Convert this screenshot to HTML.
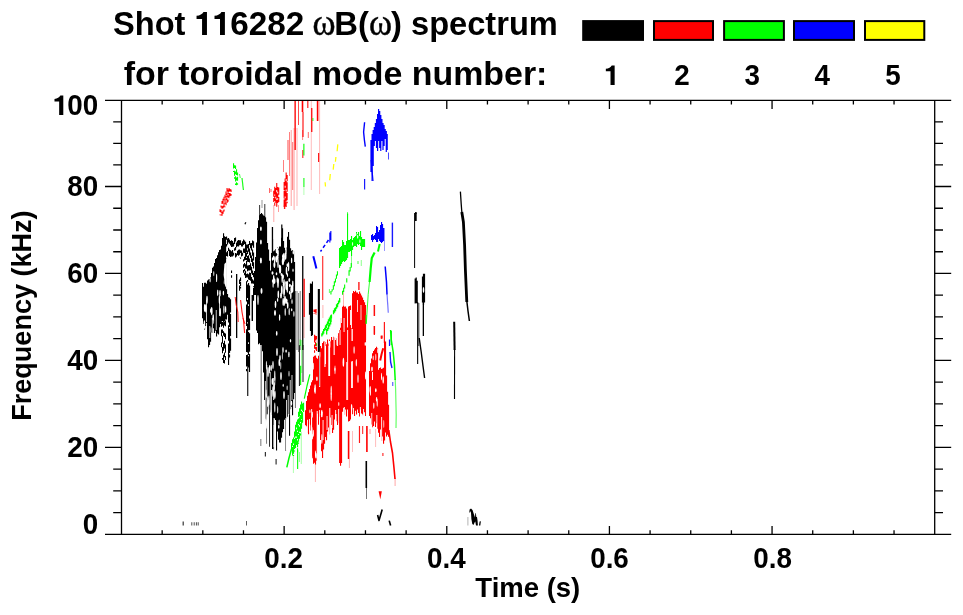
<!DOCTYPE html>
<html><head><meta charset="utf-8"><title>Shot 116282 spectrum</title>
<style>
html,body{margin:0;padding:0;background:#fff;}
body{width:963px;height:615px;overflow:hidden;}
svg{display:block;will-change:transform;font-family:"Liberation Sans",sans-serif;font-weight:bold;fill:#000;}
</style></head><body>
<svg width="963" height="615" viewBox="0 0 963 615">
<rect width="963" height="615" fill="#fff"/>
<path fill="#000" d="M202.0 283.0h1.1v35.2h-1.1zM203.0 286.7h1.1v37.2h-1.1zM204.0 282.8h1.1v46.6h-1.1zM205.0 282.8h1.1v43.2h-1.1zM206.0 283.8h1.1v39.3h-1.1zM207.0 280.4h1.1v58.8h-1.1zM208.0 279.4h1.1v67.8h-1.1zM209.0 279.1h1.1v66.0h-1.1zM210.0 277.4h1.1v64.4h-1.1zM211.0 272.9h1.1v59.5h-1.1zM212.0 267.7h1.1v65.4h-1.1zM213.0 266.4h1.1v61.9h-1.1zM214.0 262.9h1.1v70.1h-1.1zM215.0 259.1h1.1v71.7h-1.1zM216.0 258.0h1.1v78.4h-1.1zM217.0 255.3h1.1v78.2h-1.1zM218.0 252.2h1.1v82.4h-1.1zM219.0 250.1h1.1v77.1h-1.1zM220.0 249.5h1.1v74.5h-1.1zM221.0 245.8h1.1v75.1h-1.1zM222.0 237.9h1.1v83.0h-1.1zM223.0 233.3h1.1v89.0h-1.1zM224.0 236.4h1.1v85.2h-1.1zM225.0 240.8h1.1v78.7h-1.1zM226.0 289.3h1.1v30.1h-1.1zM227.0 294.0h1.1v20.8h-1.1z"/>
<path fill="#fff" d="M224.4 264 L226.4 262 L226.4 288 L225.2 286 L223.6 275z"/>
<path fill="#000" d="M221.0 321.3h1.0v5.4h-1.0zM221.0 329.5h1.0v6.8h-1.0zM221.0 342.6h1.0v4.6h-1.0zM222.0 322.0h1.0v3.7h-1.0zM222.0 329.4h1.0v3.6h-1.0zM222.0 335.8h1.0v7.8h-1.0zM222.0 346.9h1.0v6.4h-1.0zM222.0 357.9h1.0v1.9h-1.0zM223.0 322.2h1.0v5.5h-1.0zM223.0 331.2h1.0v4.6h-1.0zM223.0 343.0h1.0v7.8h-1.0zM223.0 354.8h1.0v8.3h-1.0zM224.0 321.9h1.0v3.6h-1.0zM224.0 332.8h1.0v4.3h-1.0zM224.0 340.8h1.0v7.6h-1.0zM224.0 352.5h1.0v4.8h-1.0zM224.0 360.1h1.0v3.5h-1.0zM225.0 320.5h1.0v5.7h-1.0zM225.0 333.4h1.0v5.9h-1.0zM225.0 344.6h1.0v8.2h-1.0zM225.0 356.1h1.0v3.9h-1.0z"/>
<path fill="#000" d="M228.0 297.3h1.1v25.3h-1.1zM228.0 325.3h1.1v15.5h-1.1zM228.0 343.4h1.1v21.6h-1.1zM229.0 297.7h1.1v29.3h-1.1zM229.0 328.4h1.1v24.7h-1.1zM229.0 354.4h1.1v3.0h-1.1zM230.0 299.3h1.1v13.2h-1.1zM230.0 313.9h1.1v22.1h-1.1zM230.0 338.5h1.1v12.2h-1.1z"/>
<g fill="#fff"><ellipse cx="224.2" cy="282.2" rx="0.4" ry="2.3"/><ellipse cx="213.8" cy="273.6" rx="0.5" ry="2.6"/><ellipse cx="216.6" cy="277.9" rx="0.6" ry="4.2"/><ellipse cx="225.6" cy="309.4" rx="0.7" ry="3.3"/><ellipse cx="204.4" cy="324.6" rx="0.8" ry="4.4"/><ellipse cx="204.5" cy="308.2" rx="0.6" ry="3.7"/><ellipse cx="211.0" cy="330.0" rx="0.4" ry="3.1"/><ellipse cx="220.2" cy="312.2" rx="0.8" ry="4.2"/><ellipse cx="211.7" cy="311.1" rx="0.9" ry="4.1"/><ellipse cx="213.2" cy="317.4" rx="0.8" ry="3.2"/><ellipse cx="217.7" cy="292.9" rx="0.7" ry="3.3"/><ellipse cx="205.8" cy="308.4" rx="0.9" ry="4.1"/><ellipse cx="220.0" cy="293.3" rx="0.8" ry="3.2"/><ellipse cx="213.7" cy="320.3" rx="0.4" ry="3.8"/><ellipse cx="204.7" cy="306.1" rx="0.6" ry="2.2"/><ellipse cx="219.4" cy="299.8" rx="0.7" ry="4.3"/><ellipse cx="210.6" cy="310.7" rx="0.5" ry="2.0"/><ellipse cx="223.9" cy="309.6" rx="0.6" ry="4.2"/><ellipse cx="211.2" cy="310.0" rx="0.5" ry="2.8"/><ellipse cx="223.4" cy="293.1" rx="0.7" ry="2.4"/><ellipse cx="207.0" cy="299.8" rx="0.8" ry="4.0"/><ellipse cx="210.1" cy="280.1" rx="0.6" ry="2.3"/></g>
<path fill="#fff" d="M206.1 300.0h0.8v22.0h-0.8z"/>
<path fill="#fff" d="M211.9 318.0h0.8v16.0h-0.8z"/>
<path fill="#fff" d="M215.8 310.0h0.8v20.0h-0.8z"/>
<path fill="#fff" d="M219.1 300.0h0.8v16.0h-0.8z"/>
<path fill="#fff" d="M209.4 326.0h0.8v12.0h-0.8z"/>
<path fill="#000" d="M224.0 236.5h1.1v4.7h-1.1zM224.0 244.8h1.1v6.3h-1.1zM225.0 237.1h1.1v6.4h-1.1zM225.0 245.9h1.1v5.7h-1.1zM226.0 236.6h1.1v3.1h-1.1zM226.0 243.9h1.1v2.6h-1.1zM226.0 252.3h1.1v3.6h-1.1zM226.0 258.7h1.1v0.3h-1.1zM227.0 238.4h1.1v6.1h-1.1zM227.0 251.0h1.1v5.6h-1.1zM228.0 237.9h1.1v4.6h-1.1zM228.0 247.8h1.1v3.3h-1.1zM228.0 254.5h1.1v0.0h-1.1zM229.0 239.4h1.1v4.3h-1.1zM229.0 249.4h1.1v6.6h-1.1zM230.0 240.9h1.1v4.5h-1.1zM230.0 250.3h1.1v6.6h-1.1zM231.0 240.2h1.1v6.7h-1.1zM231.0 251.2h1.1v5.4h-1.1zM232.0 241.0h1.1v5.7h-1.1zM232.0 249.9h1.1v6.5h-1.1zM233.0 242.7h1.1v3.9h-1.1zM233.0 252.8h1.1v2.7h-1.1zM234.0 238.0h1.1v6.0h-1.1zM234.0 248.2h1.1v2.6h-1.1zM235.0 237.4h1.1v4.0h-1.1zM235.0 247.1h1.1v3.1h-1.1zM235.0 253.1h1.1v4.5h-1.1zM236.0 242.6h1.1v4.7h-1.1zM236.0 253.6h1.1v2.9h-1.1zM237.0 240.8h1.1v5.4h-1.1zM237.0 250.7h1.1v4.3h-1.1zM238.0 240.0h1.1v6.6h-1.1zM238.0 249.7h1.1v6.1h-1.1zM239.0 240.3h1.1v4.9h-1.1zM239.0 249.6h1.1v5.2h-1.1zM239.0 257.1h1.1v0.1h-1.1zM240.0 240.3h1.1v4.7h-1.1zM240.0 250.2h1.1v2.8h-1.1zM240.0 257.6h1.1v1.2h-1.1zM241.0 243.3h1.1v3.1h-1.1zM241.0 250.5h1.1v6.0h-1.1zM242.0 241.2h1.1v5.3h-1.1zM242.0 252.7h1.1v3.1h-1.1zM243.0 239.4h1.1v5.6h-1.1zM243.0 248.6h1.1v4.1h-1.1zM243.0 257.6h1.1v0.0h-1.1zM244.0 240.5h1.1v3.4h-1.1zM244.0 248.4h1.1v4.5h-1.1zM244.0 256.7h1.1v3.7h-1.1zM245.0 241.7h1.1v5.4h-1.1zM245.0 251.6h1.1v6.3h-1.1zM246.0 245.9h1.1v6.1h-1.1zM246.0 258.1h1.1v2.2h-1.1z"/>
<path fill="#000" d="M245.0 245.9h1.1v7.4h-1.1zM245.0 255.7h1.1v4.2h-1.1zM245.0 264.3h1.1v4.3h-1.1zM245.0 270.8h1.1v7.2h-1.1zM246.0 244.4h1.1v6.4h-1.1zM246.0 252.7h1.1v4.0h-1.1zM246.0 261.1h1.1v7.6h-1.1zM246.0 274.0h1.1v3.6h-1.1zM247.0 244.4h1.1v3.9h-1.1zM247.0 250.4h1.1v3.5h-1.1zM247.0 255.9h1.1v5.8h-1.1zM247.0 265.4h1.1v5.8h-1.1zM247.0 273.6h1.1v3.9h-1.1zM247.0 280.1h1.1v1.7h-1.1zM248.0 244.0h1.1v7.8h-1.1zM248.0 255.3h1.1v6.8h-1.1zM248.0 265.2h1.1v5.3h-1.1zM248.0 274.2h1.1v5.2h-1.1zM249.0 241.1h1.1v3.9h-1.1zM249.0 248.5h1.1v6.7h-1.1zM249.0 258.5h1.1v4.0h-1.1zM249.0 264.9h1.1v5.6h-1.1zM249.0 272.4h1.1v7.5h-1.1zM250.0 243.3h1.1v5.0h-1.1zM250.0 252.4h1.1v5.5h-1.1zM250.0 263.3h1.1v7.0h-1.1zM250.0 273.1h1.1v7.6h-1.1zM251.0 243.1h1.1v7.5h-1.1zM251.0 255.6h1.1v6.5h-1.1zM251.0 266.8h1.1v6.8h-1.1zM251.0 276.9h1.1v6.6h-1.1zM252.0 240.6h1.1v4.8h-1.1zM252.0 249.6h1.1v6.1h-1.1zM252.0 258.4h1.1v7.7h-1.1zM252.0 270.4h1.1v4.7h-1.1zM252.0 279.3h1.1v4.1h-1.1zM253.0 241.3h1.1v6.5h-1.1zM253.0 252.5h1.1v7.9h-1.1zM253.0 262.3h1.1v6.1h-1.1zM253.0 272.9h1.1v4.3h-1.1zM253.0 280.5h1.1v3.3h-1.1zM253.0 286.3h1.1v0.7h-1.1z"/>
<path fill="#000" d="M246.0 281.2h1.1v20.2h-1.1zM246.0 304.6h1.1v21.4h-1.1zM246.0 329.3h1.1v22.8h-1.1zM246.0 354.9h1.1v11.5h-1.1zM246.0 368.9h1.1v2.3h-1.1zM247.0 284.5h1.1v13.4h-1.1zM247.0 300.1h1.1v22.2h-1.1zM247.0 323.6h1.1v28.9h-1.1zM247.0 354.5h1.1v11.4h-1.1zM248.0 283.0h1.1v21.2h-1.1zM248.0 305.9h1.1v24.3h-1.1zM248.0 332.0h1.1v10.3h-1.1zM248.0 344.0h1.1v10.9h-1.1zM248.0 356.3h1.1v11.3h-1.1zM249.0 285.6h1.1v29.8h-1.1zM249.0 318.6h1.1v11.5h-1.1zM249.0 333.2h1.1v18.6h-1.1zM249.0 353.9h1.1v18.0h-1.1z"/>
<path fill="#000" d="M247.2 365.0h1.1v31.0h-1.1z"/>
<path fill="#000" d="M251.6 295.0h1.4v26.0h-1.4z"/>
<path fill="#000" d="M236.0 274.0h1.3v64.0h-1.3z"/>
<path fill="#000" d="M239.0 279.5h1.1v4.4h-1.1zM239.0 285.5h1.1v5.2h-1.1zM240.0 277.5h1.1v3.6h-1.1zM240.0 281.7h1.1v4.6h-1.1zM240.0 287.0h1.1v1.5h-1.1z"/>
<path fill="#000" d="M231.0 270.6h1.1v2.4h-1.1zM231.0 275.2h1.1v2.5h-1.1z"/>
<path fill="#000" d="M243.0 259.2h1.1v2.2h-1.1zM243.0 264.2h1.1v3.6h-1.1zM243.0 270.0h1.1v2.7h-1.1zM244.0 263.1h1.1v3.3h-1.1zM244.0 268.9h1.1v2.4h-1.1zM244.0 272.7h1.1v2.5h-1.1z"/>
<path fill="#000" d="M253.0 287.8h1.1v13.0h-1.1zM254.0 271.1h1.1v24.0h-1.1zM255.0 257.1h1.1v38.0h-1.1zM256.0 242.5h1.1v88.0h-1.1zM257.0 227.9h1.1v105.0h-1.1zM258.0 220.2h1.1v124.0h-1.1zM259.0 215.2h1.1v128.0h-1.1zM260.0 214.1h1.1v131.0h-1.1zM261.0 213.1h1.1v132.0h-1.1zM262.0 214.2h1.1v137.0h-1.1zM263.0 215.4h1.1v157.0h-1.1zM264.0 216.1h1.1v184.0h-1.1zM265.0 217.3h1.1v208.0h-1.1zM266.0 221.7h1.1v222.0h-1.1zM267.0 243.0h1.1v172.0h-1.1zM268.0 249.4h1.1v160.0h-1.1zM269.0 260.7h1.1v186.0h-1.1zM270.0 270.5h1.1v142.0h-1.1zM271.0 252.7h1.1v162.0h-1.1zM272.0 239.1h1.1v210.0h-1.1zM273.0 251.2h1.1v198.0h-1.1zM274.0 250.6h1.1v168.0h-1.1zM275.0 249.2h1.1v171.0h-1.1zM276.0 250.5h1.1v200.0h-1.1zM277.0 247.4h1.1v184.0h-1.1zM278.0 248.8h1.1v191.0h-1.1zM279.0 246.5h1.1v196.0h-1.1zM280.0 246.6h1.1v196.0h-1.1zM281.0 237.7h1.1v200.0h-1.1zM282.0 228.3h1.1v204.0h-1.1zM283.0 241.0h1.1v188.0h-1.1zM284.0 247.7h1.1v172.0h-1.1zM285.0 250.1h1.1v168.0h-1.1zM286.0 247.5h1.1v171.0h-1.1zM287.0 236.8h1.1v180.0h-1.1zM288.0 231.9h1.1v182.0h-1.1zM289.0 239.7h1.1v196.0h-1.1zM290.0 248.2h1.1v161.0h-1.1zM291.0 250.8h1.1v156.0h-1.1zM292.0 250.2h1.1v165.0h-1.1zM293.0 251.2h1.1v148.0h-1.1zM294.0 262.1h1.1v131.0h-1.1z"/>
<path fill="#000" opacity="0.8" d="M259.1 205.0h1.0v11.0h-1.0z"/>
<path fill="#000" opacity="0.8" d="M264.3 204.0h1.0v13.0h-1.0z"/>
<path fill="#000" opacity="0.5" d="M261.6 200.0h0.8v8.0h-0.8z"/>
<path fill="#000" d="M271.8 227.0h1.3v25.0h-1.3z"/>
<path fill="#000" d="M281.2 224.5h1.2v15.5h-1.2z"/>
<path fill="#000" opacity="0.55" d="M260.6 345.0h1.2v79.0h-1.2z"/>
<path fill="#000" opacity="0.45" d="M260.2 439.0h1.2v7.0h-1.2z"/>
<path fill="#000" opacity="0.5" d="M285.1 406.0h1.0v45.0h-1.0z"/>
<path fill="#fff" d="M274.8 420.0h1.0v32.0h-1.0z"/>
<path fill="#fff" d="M273.6 418.0h0.8v34.0h-0.8z"/>
<g fill="#fff"><ellipse cx="282.2" cy="278.8" rx="0.7" ry="4.2"/><ellipse cx="272.7" cy="259.0" rx="0.9" ry="1.8"/><ellipse cx="278.0" cy="280.4" rx="0.9" ry="2.5"/><ellipse cx="274.3" cy="265.0" rx="0.9" ry="2.8"/><ellipse cx="273.7" cy="279.8" rx="0.8" ry="4.7"/><ellipse cx="292.6" cy="288.4" rx="0.8" ry="4.3"/><ellipse cx="278.0" cy="263.3" rx="0.7" ry="4.8"/><ellipse cx="291.6" cy="260.4" rx="0.7" ry="2.8"/><ellipse cx="279.4" cy="266.6" rx="0.7" ry="2.2"/><ellipse cx="284.0" cy="283.5" rx="0.8" ry="4.4"/><ellipse cx="283.9" cy="257.4" rx="1.0" ry="4.6"/><ellipse cx="277.5" cy="250.9" rx="0.8" ry="3.4"/><ellipse cx="284.1" cy="290.6" rx="0.9" ry="4.3"/><ellipse cx="272.5" cy="273.0" rx="1.0" ry="1.8"/><ellipse cx="272.9" cy="281.0" rx="1.0" ry="1.8"/><ellipse cx="285.6" cy="256.0" rx="0.9" ry="3.8"/><ellipse cx="276.6" cy="259.3" rx="1.0" ry="3.3"/><ellipse cx="288.6" cy="266.6" rx="0.7" ry="4.9"/><ellipse cx="286.5" cy="270.7" rx="0.8" ry="4.0"/><ellipse cx="287.3" cy="288.4" rx="0.7" ry="4.4"/><ellipse cx="286.3" cy="285.8" rx="1.0" ry="4.4"/><ellipse cx="291.4" cy="290.2" rx="0.9" ry="3.3"/><ellipse cx="287.3" cy="283.7" rx="0.8" ry="3.0"/><ellipse cx="274.4" cy="281.1" rx="1.1" ry="2.8"/><ellipse cx="274.9" cy="258.6" rx="0.8" ry="2.5"/><ellipse cx="293.3" cy="252.5" rx="0.7" ry="1.9"/><ellipse cx="285.9" cy="282.6" rx="0.6" ry="1.7"/><ellipse cx="281.6" cy="274.5" rx="1.0" ry="1.6"/><ellipse cx="273.5" cy="257.8" rx="0.6" ry="2.3"/><ellipse cx="287.5" cy="275.0" rx="0.6" ry="2.1"/><ellipse cx="277.5" cy="257.2" rx="1.0" ry="2.6"/><ellipse cx="283.6" cy="284.3" rx="0.8" ry="2.4"/><ellipse cx="291.4" cy="288.4" rx="0.7" ry="3.4"/><ellipse cx="293.0" cy="270.3" rx="0.6" ry="1.7"/><ellipse cx="292.8" cy="283.7" rx="0.7" ry="3.3"/><ellipse cx="282.9" cy="261.5" rx="1.1" ry="3.8"/><ellipse cx="276.5" cy="250.5" rx="0.8" ry="2.8"/><ellipse cx="289.3" cy="280.0" rx="0.9" ry="2.1"/><ellipse cx="274.6" cy="263.5" rx="0.7" ry="4.5"/><ellipse cx="282.9" cy="276.8" rx="1.1" ry="2.4"/><ellipse cx="283.3" cy="256.3" rx="1.0" ry="1.5"/><ellipse cx="289.9" cy="285.5" rx="1.0" ry="1.8"/><ellipse cx="277.2" cy="280.1" rx="0.6" ry="3.2"/><ellipse cx="281.8" cy="290.1" rx="0.9" ry="4.5"/><ellipse cx="278.0" cy="283.2" rx="0.8" ry="4.7"/><ellipse cx="273.1" cy="284.7" rx="0.6" ry="3.4"/><ellipse cx="283.1" cy="256.6" rx="1.0" ry="2.6"/><ellipse cx="278.1" cy="253.2" rx="0.7" ry="3.1"/><ellipse cx="287.4" cy="265.1" rx="0.9" ry="1.9"/><ellipse cx="280.1" cy="269.4" rx="1.1" ry="4.4"/><ellipse cx="286.0" cy="250.5" rx="0.7" ry="4.0"/><ellipse cx="276.5" cy="273.7" rx="0.8" ry="1.5"/></g>
<g fill="#fff"><ellipse cx="293.9" cy="314.0" rx="0.6" ry="3.0"/><ellipse cx="286.2" cy="301.3" rx="0.7" ry="2.2"/><ellipse cx="286.7" cy="301.8" rx="0.8" ry="2.1"/><ellipse cx="285.2" cy="311.9" rx="0.6" ry="3.9"/><ellipse cx="289.2" cy="311.7" rx="0.6" ry="3.6"/><ellipse cx="284.0" cy="294.2" rx="0.5" ry="3.2"/><ellipse cx="290.8" cy="295.4" rx="0.7" ry="3.6"/><ellipse cx="289.5" cy="292.7" rx="0.6" ry="1.9"/><ellipse cx="284.4" cy="302.2" rx="0.5" ry="3.8"/><ellipse cx="287.7" cy="305.3" rx="0.8" ry="3.4"/><ellipse cx="292.0" cy="301.6" rx="0.6" ry="2.5"/><ellipse cx="283.2" cy="302.0" rx="0.8" ry="4.0"/><ellipse cx="291.7" cy="309.8" rx="0.7" ry="1.5"/><ellipse cx="286.6" cy="300.3" rx="0.8" ry="1.8"/></g>
<g fill="#fff"><ellipse cx="275.5" cy="304.3" rx="0.8" ry="3.6"/><ellipse cx="278.3" cy="294.4" rx="0.8" ry="3.8"/><ellipse cx="277.6" cy="299.9" rx="0.7" ry="1.9"/><ellipse cx="279.6" cy="317.6" rx="0.7" ry="3.3"/><ellipse cx="281.0" cy="295.5" rx="0.9" ry="3.1"/></g>
<ellipse cx="260.9" cy="228.7" rx="0.9" ry="2.2" fill="#fff"/>
<ellipse cx="260.9" cy="242" rx="0.9" ry="2.5" fill="#fff"/>
<ellipse cx="260.9" cy="260.4" rx="1.0" ry="3" fill="#fff"/>
<ellipse cx="261.5" cy="291" rx="1.0" ry="3" fill="#fff"/>
<ellipse cx="258" cy="300" rx="0.7" ry="5" fill="#fff"/>
<ellipse cx="254.5" cy="318" rx="1.2" ry="14" fill="#fff"/>
<ellipse cx="275" cy="313" rx="1.0" ry="3" fill="#fff"/>
<ellipse cx="285" cy="300" rx="1.0" ry="4" fill="#fff"/>
<ellipse cx="277" cy="352" rx="0.8" ry="4" fill="#fff"/>
<ellipse cx="280" cy="358" rx="0.8" ry="3" fill="#fff"/>
<ellipse cx="283" cy="350" rx="0.7" ry="3" fill="#fff"/>
<ellipse cx="273" cy="365" rx="0.7" ry="4" fill="#fff"/>
<ellipse cx="268" cy="372" rx="0.8" ry="5" fill="#fff"/>
<ellipse cx="281" cy="376" rx="0.8" ry="4" fill="#fff"/>
<ellipse cx="284" cy="395" rx="0.8" ry="4" fill="#fff"/>
<path fill="#fff" d="M264.9 381.0h0.8v66.0h-0.8z"/>
<path fill="#fff" d="M266.5 365.0h0.8v82.0h-0.8z"/>
<path fill="#fff" d="M268.2 400.0h0.8v20.0h-0.8z"/>
<path fill="#fff" d="M269.8 372.0h0.8v75.0h-0.8z"/>
<path fill="#fff" d="M271.2 390.0h0.8v35.0h-0.8z"/>
<path fill="#fff" d="M273.0 378.0h0.8v22.0h-0.8z"/>
<path fill="#fff" d="M273.6 425.0h0.8v22.0h-0.8z"/>
<path fill="#fff" d="M267.3 420.0h0.8v27.0h-0.8z"/>
<path fill="#fff" d="M286.2 400.0h0.8v50.0h-0.8z"/>
<path fill="#fff" d="M287.8 395.0h0.8v45.0h-0.8z"/>
<path fill="#fff" d="M289.8 380.0h0.8v35.0h-0.8z"/>
<path fill="#fff" d="M291.6 375.0h0.8v25.0h-0.8z"/>
<g fill="#fff"><ellipse cx="266.4" cy="365.4" rx="0.5" ry="4.3"/><ellipse cx="272.4" cy="381.4" rx="0.8" ry="3.4"/><ellipse cx="269.6" cy="368.1" rx="0.8" ry="2.5"/><ellipse cx="274.8" cy="395.3" rx="0.6" ry="4.2"/><ellipse cx="267.2" cy="419.1" rx="0.8" ry="5.3"/><ellipse cx="271.2" cy="368.0" rx="0.7" ry="3.2"/><ellipse cx="274.8" cy="375.7" rx="0.6" ry="5.3"/><ellipse cx="266.2" cy="395.6" rx="0.4" ry="2.1"/><ellipse cx="266.2" cy="424.2" rx="0.8" ry="4.6"/><ellipse cx="267.7" cy="403.6" rx="0.7" ry="3.5"/><ellipse cx="271.1" cy="412.2" rx="0.4" ry="2.8"/><ellipse cx="269.6" cy="369.3" rx="0.6" ry="4.3"/><ellipse cx="266.1" cy="393.8" rx="0.5" ry="4.3"/><ellipse cx="268.0" cy="401.7" rx="0.4" ry="4.7"/><ellipse cx="265.7" cy="422.4" rx="0.6" ry="3.9"/><ellipse cx="268.9" cy="400.5" rx="0.7" ry="5.0"/><ellipse cx="273.0" cy="391.6" rx="0.8" ry="5.4"/><ellipse cx="274.3" cy="386.6" rx="0.6" ry="4.3"/><ellipse cx="274.9" cy="394.2" rx="0.6" ry="3.7"/><ellipse cx="274.9" cy="380.8" rx="0.4" ry="4.9"/><ellipse cx="274.8" cy="407.6" rx="0.6" ry="5.0"/><ellipse cx="267.7" cy="398.6" rx="0.4" ry="2.5"/></g>
<g fill="#fff"><ellipse cx="283.2" cy="385.3" rx="0.6" ry="1.6"/><ellipse cx="287.1" cy="387.9" rx="0.5" ry="2.3"/><ellipse cx="282.3" cy="355.9" rx="0.4" ry="3.8"/><ellipse cx="291.5" cy="403.2" rx="0.7" ry="2.6"/><ellipse cx="288.9" cy="354.4" rx="0.7" ry="2.9"/><ellipse cx="290.5" cy="340.8" rx="0.7" ry="1.8"/><ellipse cx="284.6" cy="434.6" rx="0.4" ry="2.1"/><ellipse cx="280.8" cy="365.7" rx="0.4" ry="3.7"/><ellipse cx="289.0" cy="373.7" rx="0.5" ry="3.0"/><ellipse cx="276.7" cy="333.4" rx="0.8" ry="2.3"/><ellipse cx="284.0" cy="432.7" rx="0.8" ry="2.7"/><ellipse cx="279.3" cy="362.5" rx="0.8" ry="3.7"/><ellipse cx="279.1" cy="422.2" rx="0.5" ry="2.7"/><ellipse cx="278.8" cy="426.8" rx="0.8" ry="2.0"/><ellipse cx="286.1" cy="351.1" rx="0.8" ry="1.6"/><ellipse cx="277.7" cy="409.8" rx="0.5" ry="3.8"/></g>
<path fill="#000" opacity="0.55" d="M294.9 291.0h1.0v117.0h-1.0z"/>
<path fill="#000" opacity="0.5" d="M296.5 291.0h1.0v59.0h-1.0z"/>
<path fill="#000" opacity="0.5" d="M298.1 293.0h1.0v59.0h-1.0z"/>
<path fill="#000" opacity="0.5" d="M299.7 291.0h1.0v59.0h-1.0z"/>
<path fill="#000" opacity="0.9" d="M298.9 345.0h1.0v41.0h-1.0z"/>
<path fill="#000" opacity="0.9" d="M302.5 345.0h1.0v37.0h-1.0z"/>
<path fill="#000" d="M302.1 256.0h1.3v94.0h-1.3z"/>
<path fill="#000" d="M308.9 293.1h1.1v21.7h-1.1zM309.9 283.6h1.1v47.5h-1.1zM310.9 283.7h1.1v52.2h-1.1zM311.9 281.5h1.1v53.7h-1.1z"/>
<path fill="#000" d="M317.8 289.0h2.1v63.0h-2.1z"/>
<path fill="#000" d="M414.1 213.0h1.0v55.0h-1.0z"/>
<path fill="#000" d="M414.9 212.8h1.8v8.2h-1.8z"/>
<path fill="#000" d="M414.6 278.6h1.2v25.0h-1.2zM415.6 277.6h1.2v25.3h-1.2zM416.6 280.8h1.2v23.0h-1.2z"/>
<path fill="#000" d="M417.1 302.0h1.1v62.0h-1.1z"/>
<path fill="#000" opacity="0.85" d="M418.4 303.0h0.9v43.0h-0.9z"/>
<path d="M419.2 338.0L421.2 352.0L423.0 366.0L424.6 378.0" fill="none" stroke="#000" stroke-width="1.4" stroke-linecap="butt" stroke-linejoin="round"/>
<path fill="#000" d="M421.9 276.6h1.2v26.0h-1.2zM422.9 273.8h1.2v31.2h-1.2zM423.9 273.8h1.2v28.7h-1.2z"/>
<path fill="#000" d="M422.7 302.0h1.3v34.0h-1.3z"/>
<ellipse cx="423.5" cy="290" rx="0.8" ry="3" fill="#fff"/>
<path fill="#000" d="M415.1 212.0h1.5v2.0h-1.5z"/>
<path d="M460.4 191.6L461.2 204.0L461.9 213.0" fill="none" stroke="#000" stroke-width="1.3" stroke-linecap="butt" stroke-linejoin="round"/>
<path d="M461.8 212.0L463.4 222.0L464.6 245.0L465.4 270.0L466.8 302.0" fill="none" stroke="#000" stroke-width="2.8" stroke-linecap="butt" stroke-linejoin="round"/>
<path d="M466.7 300.0L468.0 311.0L469.4 321.0" fill="none" stroke="#000" stroke-width="1.5" stroke-linecap="butt" stroke-linejoin="round"/>
<path d="M454.2 321.8L454.6 350.0" fill="none" stroke="#000" stroke-width="2.0" stroke-linecap="butt" stroke-linejoin="round"/>
<path d="M454.6 349.0L454.5 399.0" fill="none" stroke="#000" stroke-width="1.1" stroke-linecap="butt" stroke-linejoin="round"/>
<path fill="#000" d="M365.5 461.0h1.6v27.0h-1.6z"/>
<path fill="#000" opacity="0.6" d="M366.1 488.0h0.9v11.0h-0.9z"/>
<path d="M377.6 515.0L379.0 520.5L382.2 509.5" fill="none" stroke="#000" stroke-width="1.6" stroke-linecap="butt" stroke-linejoin="round"/>
<path d="M389.2 520.6L390.6 525.5" fill="none" stroke="#000" stroke-width="1.6" stroke-linecap="butt" stroke-linejoin="round"/>
<path fill="#000" d="M469.3 512.5L469.6 509.5L471 508.5L472.5 510L474 514.5L475 517.5L475.3 513.2L475.9 513.2L476.3 517L477 517L477.6 521L477.9 525.6L476 525.6L475.3 521.5L474.6 522.5L473.5 525L472.3 524L471.4 519L471 513L470.4 511L469.9 512.6Z"/>
<path fill="#000" d="M479.6 521.6L480.9 521.3L480.3 525.6L479.0 525.6Z"/>
<path fill="#000" opacity="0.3" d="M467.4 517.0h1.0v8.6h-1.0z"/>
<path fill="#000" opacity="0.8" d="M182.6 521.5h1.2v4.0h-1.2z"/>
<path fill="#000" opacity="0.7" d="M191.3 522.3h1.0v3.3h-1.0z"/>
<path fill="#000" opacity="0.7" d="M193.7 522.3h1.0v3.3h-1.0z"/>
<path fill="#000" opacity="0.7" d="M195.9 522.3h1.0v3.3h-1.0z"/>
<path fill="#000" opacity="0.7" d="M197.7 522.3h1.0v3.3h-1.0z"/>
<path fill="#000" opacity="0.7" d="M246.0 521.0h0.9v4.5h-0.9z"/>
<path fill="#000" opacity="0.8" d="M264.8 452.0h1.2v4.5h-1.2z"/>
<path fill="#000" opacity="0.8" d="M275.5 459.0h1.2v5.5h-1.2z"/>
<path d="M245.0 224.3L245.8 222.2" fill="none" stroke="#000" stroke-width="1.3" opacity="0.9" stroke-linecap="butt" stroke-linejoin="round"/>
<path fill="#f00" d="M219.5 209.2h1.1v2.8h-1.1zM219.5 214.4h1.1v0.8h-1.1zM220.5 205.4h1.1v2.1h-1.1zM220.5 209.9h1.1v2.9h-1.1zM220.5 214.4h1.1v1.0h-1.1zM221.5 201.1h1.1v2.8h-1.1zM221.5 206.2h1.1v2.6h-1.1zM221.5 211.8h1.1v4.0h-1.1zM222.5 198.8h1.1v4.8h-1.1zM222.5 205.8h1.1v2.5h-1.1zM222.5 210.6h1.1v3.2h-1.1zM223.5 196.8h1.1v3.5h-1.1zM223.5 203.2h1.1v4.1h-1.1zM223.5 209.5h1.1v2.1h-1.1zM224.5 194.8h1.1v2.7h-1.1zM224.5 199.5h1.1v4.3h-1.1zM224.5 206.6h1.1v0.7h-1.1zM225.5 191.6h1.1v3.5h-1.1zM225.5 196.3h1.1v3.8h-1.1zM225.5 202.7h1.1v2.5h-1.1zM226.5 188.1h1.1v3.5h-1.1zM226.5 193.6h1.1v3.3h-1.1zM226.5 198.5h1.1v4.4h-1.1zM227.5 189.6h1.1v4.4h-1.1zM227.5 195.5h1.1v2.4h-1.1zM227.5 199.7h1.1v2.1h-1.1zM228.5 187.9h1.1v3.8h-1.1zM228.5 192.9h1.1v4.5h-1.1zM228.5 198.8h1.1v0.5h-1.1zM229.5 189.0h1.1v2.2h-1.1zM229.5 193.1h1.1v3.1h-1.1zM229.5 197.7h1.1v0.3h-1.1zM230.5 189.6h1.1v2.4h-1.1zM230.5 194.1h1.1v1.7h-1.1z"/>
<path fill="#f00" d="M273.2 190.8h1.1v6.0h-1.1zM273.2 198.0h1.1v3.9h-1.1zM274.2 186.8h1.1v7.7h-1.1zM274.2 195.7h1.1v5.3h-1.1zM274.2 202.6h1.1v3.2h-1.1zM275.2 187.9h1.1v8.9h-1.1zM275.2 198.6h1.1v4.2h-1.1zM275.2 204.2h1.1v0.1h-1.1zM276.2 183.1h1.1v7.0h-1.1zM276.2 192.3h1.1v6.3h-1.1zM276.2 200.1h1.1v6.6h-1.1zM277.2 186.9h1.1v4.9h-1.1zM277.2 193.5h1.1v4.8h-1.1zM277.2 199.5h1.1v3.6h-1.1zM278.2 187.4h1.1v7.4h-1.1zM278.2 197.0h1.1v5.0h-1.1z"/>
<path fill="#f00" d="M283.6 182.0h1.1v8.2h-1.1zM283.6 190.9h1.1v7.5h-1.1zM283.6 199.4h1.1v7.6h-1.1zM284.6 178.5h1.1v7.2h-1.1zM284.6 187.7h1.1v8.9h-1.1zM284.6 198.3h1.1v8.2h-1.1zM285.6 172.4h1.1v6.7h-1.1zM285.6 181.0h1.1v8.6h-1.1zM285.6 191.3h1.1v10.2h-1.1zM285.6 202.2h1.1v4.9h-1.1zM286.6 174.9h1.1v6.3h-1.1zM286.6 182.3h1.1v9.4h-1.1zM286.6 193.1h1.1v7.1h-1.1zM286.6 201.8h1.1v1.4h-1.1z"/>
<path fill="#f00" opacity="0.6" d="M269.0 188.0h1.0v5.0h-1.0z"/>
<path fill="#f00" opacity="0.6" d="M270.5 189.0h1.0v3.0h-1.0z"/>
<path fill="#f00" opacity="0.5" d="M283.0 160.0h1.0v12.0h-1.0z"/>
<path fill="#f00" opacity="0.6" d="M287.4 140.0h1.2v20.0h-1.2z"/>
<path fill="#f00" opacity="0.5" d="M289.0 132.0h1.0v44.0h-1.0z"/>
<path fill="#f00" opacity="0.38" d="M290.7 130.0h1.0v76.0h-1.0z"/>
<path fill="#f00" opacity="0.45" d="M292.0 142.0h1.2v48.0h-1.2z"/>
<path fill="#f00" opacity="0.35" d="M293.6 128.0h1.0v82.0h-1.0z"/>
<path fill="#f00" opacity="0.3" d="M296.5 128.0h1.0v78.0h-1.0z"/>
<path fill="#f00" opacity="0.3" d="M310.8 100.0h0.9v90.0h-0.9z"/>
<path fill="#f00" opacity="0.3" d="M319.2 100.0h0.9v94.0h-0.9z"/>
<path fill="#f00" opacity="0.9" d="M294.4 100.0h1.5v50.0h-1.5z"/>
<path fill="#f00" opacity="0.7" d="M298.0 101.0h1.0v24.0h-1.0z"/>
<path fill="#f00" d="M301.7 100.0h1.6v12.0h-1.6z"/>
<path fill="#f00" opacity="0.9" d="M302.4 112.0h1.2v25.0h-1.2z"/>
<path fill="#f00" opacity="0.5" d="M302.1 130.0h1.0v10.0h-1.0z"/>
<path fill="#f00" opacity="0.8" d="M302.2 150.0h1.2v8.0h-1.2z"/>
<path fill="#f00" opacity="0.9" d="M307.2 100.0h1.2v8.0h-1.2z"/>
<path fill="#f00" opacity="0.6" d="M307.8 132.0h1.0v6.0h-1.0z"/>
<path fill="#f00" opacity="0.95" d="M311.1 108.0h1.3v24.0h-1.3z"/>
<path fill="#f00" d="M316.8 100.0h1.6v21.0h-1.6z"/>
<path fill="#f00" opacity="0.9" d="M318.0 153.0h1.2v9.0h-1.2z"/>
<path fill="#f00" opacity="0.35" d="M273.3 205.0h1.0v17.0h-1.0z"/>
<path fill="#f00" opacity="0.9" d="M283.9 205.0h1.4v4.0h-1.4z"/>
<path fill="#f00" opacity="0.4" d="M278.0 205.0h1.0v7.0h-1.0z"/>
<path d="M235.2 297.0L236.2 305.0L237.8 312.0L238.2 322.0" fill="none" stroke="#f00" stroke-width="1.0" opacity="0.9" stroke-linecap="butt" stroke-linejoin="round"/>
<path d="M240.6 300.0L242.0 312.0L243.6 321.0L244.6 333.0" fill="none" stroke="#f00" stroke-width="1.1" opacity="0.9" stroke-linecap="butt" stroke-linejoin="round"/>
<path d="M243.0 318.0L245.0 324.0" fill="none" stroke="#f00" stroke-width="1.0" opacity="0.8" stroke-linecap="butt" stroke-linejoin="round"/>
<path fill="#f00" d="M303.5 278.7h1.3v38.3h-1.3z"/>
<path fill="#f00" opacity="0.3" d="M303.6 317.0h1.0v21.0h-1.0z"/>
<path fill="#f00" opacity="0.8" d="M322.1 256.0h1.2v44.0h-1.2z"/>
<path fill="#f00" opacity="0.3" d="M322.4 305.0h1.0v13.0h-1.0z"/>
<path fill="#f00" d="M313.5 309.5h1.1v2.6h-1.1zM313.5 312.9h1.1v0.7h-1.1zM314.5 309.5h1.1v2.7h-1.1zM314.5 312.7h1.1v0.8h-1.1zM315.5 308.9h1.1v4.0h-1.1zM315.5 313.5h1.1v1.0h-1.1z"/>
<path fill="#f00" d="M314.0 334.8h1.1v7.8h-1.1zM314.0 344.5h1.1v4.2h-1.1zM314.0 350.2h1.1v2.5h-1.1zM315.0 335.8h1.1v4.6h-1.1zM315.0 341.8h1.1v4.4h-1.1zM315.0 347.1h1.1v2.3h-1.1zM316.0 336.1h1.1v3.5h-1.1zM316.0 340.7h1.1v5.1h-1.1zM316.0 346.7h1.1v4.4h-1.1z"/>
<path fill="#f00" d="M322.0 343.1h1.1v5.0h-1.1zM322.0 349.3h1.1v1.5h-1.1zM323.0 341.5h1.1v5.3h-1.1zM323.0 347.9h1.1v2.0h-1.1zM324.0 341.0h1.1v4.3h-1.1zM324.0 346.9h1.1v3.9h-1.1z"/>
<path fill="#f00" d="M305.0 410.2h1.1v15.0h-1.1zM306.0 400.9h1.1v32.0h-1.1zM307.0 395.7h1.1v24.0h-1.1zM308.0 392.2h1.1v42.0h-1.1zM309.0 388.9h1.1v30.0h-1.1zM310.0 385.5h1.1v45.0h-1.1zM311.0 382.3h1.1v35.0h-1.1zM312.0 380.2h1.1v78.0h-1.1zM313.0 356.8h1.1v107.0h-1.1zM314.0 355.8h1.1v107.0h-1.1zM315.0 355.6h1.1v109.0h-1.1zM316.0 357.7h1.1v103.0h-1.1zM317.0 358.8h1.1v55.0h-1.1zM318.0 355.8h1.1v69.0h-1.1zM319.0 354.8h1.1v62.0h-1.1zM320.0 346.1h1.1v94.0h-1.1zM321.0 348.3h1.1v103.0h-1.1zM322.0 344.0h1.1v114.0h-1.1zM323.0 345.6h1.1v104.0h-1.1zM324.0 342.7h1.1v101.0h-1.1zM325.0 342.0h1.1v95.0h-1.1zM326.0 344.3h1.1v96.0h-1.1zM327.0 339.4h1.1v92.0h-1.1zM328.0 343.5h1.1v84.0h-1.1zM329.0 339.4h1.1v95.0h-1.1zM330.0 341.5h1.1v76.0h-1.1zM331.0 337.0h1.1v88.0h-1.1zM332.0 340.1h1.1v93.0h-1.1zM333.0 336.8h1.1v93.0h-1.1zM334.0 337.5h1.1v82.0h-1.1zM335.0 340.0h1.1v74.0h-1.1zM336.0 338.3h1.1v83.0h-1.1zM337.0 336.1h1.1v89.0h-1.1zM338.0 333.2h1.1v90.0h-1.1zM339.0 330.1h1.1v133.0h-1.1zM340.0 327.7h1.1v138.0h-1.1zM341.0 322.9h1.1v140.0h-1.1zM342.0 306.7h1.1v105.0h-1.1zM343.0 305.7h1.1v102.0h-1.1zM344.0 306.8h1.1v108.0h-1.1zM345.0 306.6h1.1v103.0h-1.1zM346.0 308.4h1.1v108.0h-1.1zM347.0 327.4h1.1v82.0h-1.1zM348.0 306.4h1.1v115.0h-1.1zM349.0 305.9h1.1v115.0h-1.1zM350.0 305.6h1.1v114.0h-1.1zM351.0 328.3h1.1v81.0h-1.1zM352.0 293.2h1.1v121.0h-1.1zM353.0 291.0h1.1v117.0h-1.1zM354.0 292.1h1.1v124.0h-1.1zM355.0 290.7h1.1v120.0h-1.1zM356.0 292.6h1.1v122.0h-1.1zM357.0 292.5h1.1v117.0h-1.1zM358.0 294.1h1.1v119.0h-1.1zM359.0 291.5h1.1v125.0h-1.1zM360.0 293.5h1.1v116.0h-1.1zM361.0 295.6h1.1v118.0h-1.1zM362.0 297.4h1.1v118.0h-1.1zM363.0 300.0h1.1v109.0h-1.1zM364.0 302.3h1.1v110.0h-1.1zM365.0 305.1h1.1v111.0h-1.1z"/>
<path fill="#f00" d="M347.8 431.0h1.6v28.0h-1.6z"/>
<path fill="#f00" opacity="0.3" d="M348.9 459.0h1.0v9.0h-1.0z"/>
<path fill="#f00" opacity="0.3" d="M352.1 431.0h0.9v21.0h-0.9z"/>
<path fill="#f00" d="M358.9 426.0h1.4v17.0h-1.4z"/>
<path fill="#f00" opacity="0.9" d="M362.2 426.0h1.0v8.0h-1.0z"/>
<path fill="#f00" d="M366.1 426.0h1.6v26.0h-1.6z"/>
<path fill="#f00" opacity="0.4" d="M369.5 429.0h1.0v5.0h-1.0z"/>
<path fill="#f00" opacity="0.3" d="M314.9 464.0h1.0v18.0h-1.0z"/>
<path fill="#f00" d="M369.0 371.1h1.1v45.0h-1.1zM370.0 363.2h1.1v55.0h-1.1zM371.0 358.4h1.1v66.0h-1.1zM372.0 353.2h1.1v74.0h-1.1zM373.0 350.9h1.1v75.0h-1.1zM374.0 349.5h1.1v72.0h-1.1zM375.0 348.0h1.1v79.0h-1.1zM376.0 346.8h1.1v76.5h-1.1zM377.0 348.2h1.1v80.5h-1.1zM378.0 369.7h1.1v63.0h-1.1zM379.0 368.1h1.1v69.0h-1.1zM380.0 367.5h1.1v62.0h-1.1zM381.0 369.0h1.1v72.0h-1.1zM382.0 368.6h1.1v68.0h-1.1zM383.0 367.8h1.1v76.0h-1.1zM384.0 340.4h1.1v100.0h-1.1zM385.0 341.5h1.1v91.0h-1.1zM386.0 375.4h1.1v61.0h-1.1zM387.0 391.7h1.1v43.0h-1.1zM388.0 404.7h1.1v32.0h-1.1z"/>
<path d="M388.8 430.0L390.5 442.0L392.5 453.0L394.0 468.0L395.0 479.0" fill="none" stroke="#f00" stroke-width="1.6" stroke-linecap="butt" stroke-linejoin="round"/>
<path fill="#f00" opacity="0.35" d="M394.6 478.0h1.0v8.0h-1.0z"/>
<path fill="#f00" opacity="0.3" d="M375.2 429.0h1.0v18.0h-1.0z"/>
<path fill="#f00" opacity="0.8" d="M382.2 453.0h1.3v3.0h-1.3z"/>
<path fill="#fff" d="M311.2 409.0h0.9v61.0h-0.9z"/>
<path fill="#fff" d="M316.7 411.0h1.0v59.0h-1.0z"/>
<path fill="#fff" d="M319.2 410.0h0.8v60.0h-0.8z"/>
<path fill="#fff" d="M329.3 408.0h1.0v62.0h-1.0z"/>
<path fill="#fff" d="M335.2 410.0h0.9v60.0h-0.9z"/>
<path fill="#fff" d="M338.2 409.0h0.9v61.0h-0.9z"/>
<path fill="#fff" d="M344.2 407.0h0.8v63.0h-0.8z"/>
<path fill="#fff" d="M351.2 406.0h0.9v64.0h-0.9z"/>
<path fill="#fff" d="M359.9 407.0h0.9v63.0h-0.9z"/>
<path fill="#fff" d="M371.4 413.0h0.8v57.0h-0.8z"/>
<path fill="#fff" d="M376.4 415.0h0.9v55.0h-0.9z"/>
<path fill="#fff" d="M381.2 417.0h0.9v53.0h-0.9z"/>
<path d="M383.2 348.3L381.6 354.0L380.2 360.5" fill="none" stroke="#f00" stroke-width="2.0" stroke-linecap="butt" stroke-linejoin="round"/>
<ellipse cx="372" cy="369" rx="0.8" ry="2.5" fill="#fff"/>
<path fill="#fff" d="M325.0 346.0h1.0v18.0h-1.0z"/>
<path fill="#fff" d="M328.5 346.0h1.0v30.0h-1.0z"/>
<path fill="#fff" d="M346.3 362.0h1.0v38.0h-1.0z"/>
<path fill="#fff" d="M351.2 362.0h1.2v26.0h-1.2z"/>
<path fill="#fff" d="M322.6 420.0h0.9v20.0h-0.9z"/>
<path fill="#fff" d="M326.6 416.0h0.9v14.0h-0.9z"/>
<path fill="#fff" d="M331.6 415.0h0.9v13.0h-0.9z"/>
<path fill="#fff" d="M335.6 414.0h0.9v12.0h-0.9z"/>
<path fill="#fff" d="M366.2 340.0h2.4v78.0h-2.4z"/>
<path fill="#fff" d="M372.0 372.0h1.0v8.0h-1.0z"/>
<path fill="#fff" d="M339.6 330.0h0.9v15.0h-0.9z"/>
<path fill="#fff" d="M343.6 318.0h0.9v14.0h-0.9z"/>
<path fill="#fff" d="M350.1 310.0h0.9v15.0h-0.9z"/>
<path fill="#fff" d="M357.1 300.0h0.8v12.0h-0.8z"/>
<path fill="#fff" d="M360.6 305.0h0.8v15.0h-0.8z"/>
<g fill="#fff"><ellipse cx="351.6" cy="407.4" rx="0.7" ry="3.5"/><ellipse cx="331.2" cy="396.6" rx="0.6" ry="4.4"/><ellipse cx="354.1" cy="350.0" rx="0.6" ry="3.8"/><ellipse cx="319.9" cy="354.8" rx="0.4" ry="3.5"/><ellipse cx="362.5" cy="417.6" rx="0.5" ry="3.9"/><ellipse cx="331.2" cy="390.5" rx="0.6" ry="4.8"/><ellipse cx="365.3" cy="343.9" rx="0.7" ry="1.9"/><ellipse cx="308.5" cy="362.9" rx="0.7" ry="5.0"/><ellipse cx="313.2" cy="366.4" rx="0.4" ry="3.4"/><ellipse cx="335.0" cy="369.9" rx="0.5" ry="4.3"/><ellipse cx="356.3" cy="362.7" rx="0.6" ry="3.7"/><ellipse cx="351.9" cy="418.5" rx="0.6" ry="3.9"/><ellipse cx="338.8" cy="404.0" rx="0.5" ry="2.1"/><ellipse cx="312.4" cy="414.7" rx="0.5" ry="3.2"/><ellipse cx="313.2" cy="365.9" rx="0.4" ry="3.5"/><ellipse cx="314.6" cy="390.0" rx="0.5" ry="2.3"/><ellipse cx="334.9" cy="369.3" rx="0.5" ry="1.7"/><ellipse cx="309.9" cy="411.4" rx="0.5" ry="1.8"/><ellipse cx="316.9" cy="378.7" rx="0.8" ry="2.2"/><ellipse cx="358.0" cy="378.7" rx="0.6" ry="4.3"/><ellipse cx="329.8" cy="344.6" rx="0.6" ry="3.8"/><ellipse cx="343.4" cy="362.2" rx="0.8" ry="4.5"/><ellipse cx="365.7" cy="375.5" rx="0.7" ry="4.0"/><ellipse cx="316.6" cy="342.1" rx="0.5" ry="1.9"/><ellipse cx="310.5" cy="368.7" rx="0.7" ry="2.6"/><ellipse cx="336.9" cy="340.8" rx="0.5" ry="4.9"/></g>
<g fill="#fff"><ellipse cx="370.2" cy="389.5" rx="0.7" ry="3.5"/><ellipse cx="383.2" cy="379.9" rx="0.7" ry="3.6"/><ellipse cx="383.8" cy="423.9" rx="0.4" ry="3.9"/><ellipse cx="377.2" cy="402.9" rx="0.5" ry="3.8"/><ellipse cx="370.4" cy="393.3" rx="0.5" ry="2.5"/><ellipse cx="376.6" cy="399.3" rx="0.7" ry="2.4"/><ellipse cx="381.5" cy="376.6" rx="0.5" ry="3.8"/><ellipse cx="375.8" cy="357.1" rx="0.5" ry="3.4"/><ellipse cx="373.8" cy="405.7" rx="0.6" ry="3.2"/><ellipse cx="373.2" cy="357.9" rx="0.5" ry="2.4"/><ellipse cx="377.8" cy="350.7" rx="0.6" ry="2.5"/><ellipse cx="375.8" cy="390.3" rx="0.8" ry="2.0"/></g>
<g fill="#fff"><ellipse cx="320.1" cy="405.7" rx="0.8" ry="2.4"/><ellipse cx="321.8" cy="414.4" rx="0.9" ry="2.9"/><ellipse cx="312.5" cy="436.5" rx="0.5" ry="3.1"/><ellipse cx="316.8" cy="455.8" rx="0.6" ry="2.7"/><ellipse cx="311.7" cy="459.2" rx="0.5" ry="4.5"/><ellipse cx="312.0" cy="431.5" rx="0.5" ry="4.5"/><ellipse cx="320.2" cy="448.5" rx="0.7" ry="4.0"/><ellipse cx="315.1" cy="389.1" rx="0.8" ry="4.8"/><ellipse cx="313.3" cy="433.2" rx="0.6" ry="3.5"/><ellipse cx="309.7" cy="428.1" rx="0.7" ry="4.1"/><ellipse cx="306.5" cy="430.2" rx="0.6" ry="4.4"/><ellipse cx="315.5" cy="454.5" rx="0.5" ry="3.9"/><ellipse cx="321.9" cy="439.0" rx="0.6" ry="4.9"/><ellipse cx="321.8" cy="412.2" rx="0.8" ry="2.5"/></g>
<path fill="#fff" d="M324.4 341.0h1.1v26.0h-1.1z"/>
<path fill="#fff" d="M328.6 341.0h1.5v35.0h-1.5z"/>
<path fill="#fff" d="M333.6 336.0h1.1v19.0h-1.1z"/>
<path fill="#fff" d="M337.1 334.0h1.0v12.0h-1.0z"/>
<path fill="#fff" d="M319.1 352.0h1.1v35.0h-1.1z"/>
<path fill="#fff" d="M347.2 330.0h0.9v70.0h-0.9z"/>
<path fill="#fff" d="M351.5 329.0h1.3v12.0h-1.3z"/>
<path fill="#fff" d="M351.5 361.0h1.3v27.0h-1.3z"/>
<path fill="#000" opacity="0.3" d="M319.2 352.0h0.8v34.0h-0.8z"/>
<path fill="#f00" opacity="0.9" d="M373.8 326.0h1.3v8.0h-1.3z"/>
<path fill="#f00" opacity="0.8" d="M380.7 335.4h2.0v3.0h-2.0z"/>
<path fill="#f00" opacity="0.9" d="M358.2 282.0h1.4v8.0h-1.4z"/>
<path fill="#f00" opacity="0.95" d="M373.6 305.0h1.5v11.0h-1.5z"/>
<path fill="#f00" opacity="0.9" d="M373.7 326.0h1.3v9.0h-1.3z"/>
<path fill="#f00" opacity="0.9" d="M383.8 322.0h1.2v21.0h-1.2z"/>
<path fill="#f00" opacity="0.8" d="M380.8 336.0h1.5v3.0h-1.5z"/>
<path fill="#f00" opacity="0.3" d="M343.0 290.0h1.0v16.0h-1.0z"/>
<path fill="#f00" opacity="0.3" d="M340.5 318.0h1.0v12.0h-1.0z"/>
<path fill="#f00" d="M378.6 491.3h3.2l-1.5 8z"/>
<path fill="#0f0" d="M233.0 163.2h1.1v5.4h-1.1zM233.0 170.9h1.1v1.0h-1.1zM234.0 165.2h1.1v2.7h-1.1zM234.0 170.7h1.1v5.0h-1.1zM234.0 177.2h1.1v1.5h-1.1zM235.0 165.6h1.1v3.5h-1.1zM235.0 171.4h1.1v2.8h-1.1zM235.0 176.2h1.1v5.3h-1.1zM235.0 183.5h1.1v1.6h-1.1zM236.0 169.2h1.1v5.7h-1.1zM236.0 177.5h1.1v3.0h-1.1zM236.0 182.3h1.1v2.9h-1.1zM237.0 172.5h1.1v2.9h-1.1zM237.0 176.8h1.1v3.9h-1.1zM237.0 183.3h1.1v1.4h-1.1z"/>
<path d="M242.0 178.0L243.4 190.0" fill="none" stroke="#0f0" stroke-width="1.2" opacity="0.9" stroke-linecap="butt" stroke-linejoin="round"/>
<path d="M239.5 174.0L240.3 178.0" fill="none" stroke="#0f0" stroke-width="1.0" opacity="0.7" stroke-linecap="butt" stroke-linejoin="round"/>
<path fill="#0f0" opacity="0.85" d="M303.2 143.8h1.3v11.7h-1.3z"/>
<path fill="#0f0" opacity="0.85" d="M303.3 178.0h1.2v9.0h-1.2z"/>
<path fill="#0f0" opacity="0.3" d="M303.4 187.0h1.0v8.0h-1.0z"/>
<path fill="#0f0" opacity="0.7" d="M312.2 118.0h1.3v3.0h-1.3z"/>
<path fill="#0f0" d="M339.0 248.0h1.1v20.0h-1.1zM340.0 247.0h1.1v19.0h-1.1zM341.0 246.0h1.1v18.0h-1.1zM342.0 240.0h1.1v22.0h-1.1zM343.0 242.0h1.1v19.0h-1.1zM344.0 245.0h1.1v17.0h-1.1zM345.0 245.0h1.1v16.0h-1.1zM346.0 241.0h1.1v19.0h-1.1zM347.0 214.0h1.1v44.0h-1.1zM348.0 240.0h1.1v12.0h-1.1zM349.0 240.0h1.1v12.0h-1.1zM350.0 239.0h1.1v12.0h-1.1zM351.0 236.0h1.1v20.0h-1.1zM352.0 240.0h1.1v10.0h-1.1zM353.0 238.0h1.1v9.0h-1.1zM354.0 237.0h1.1v9.0h-1.1zM355.0 236.0h1.1v10.0h-1.1zM356.0 232.0h1.1v15.0h-1.1zM357.0 234.0h1.1v10.0h-1.1zM358.0 232.0h1.1v13.0h-1.1zM359.0 236.0h1.1v8.0h-1.1zM360.0 231.0h1.1v15.0h-1.1zM361.0 237.0h1.1v13.0h-1.1zM362.0 239.0h1.1v8.0h-1.1zM363.0 239.0h1.1v8.0h-1.1zM364.0 239.0h1.1v8.0h-1.1z"/>
<g fill="#fff"><ellipse cx="352.6" cy="243.9" rx="0.5" ry="1.9"/><ellipse cx="359.9" cy="241.3" rx="0.5" ry="2.0"/><ellipse cx="355.9" cy="234.2" rx="0.5" ry="1.5"/><ellipse cx="357.7" cy="236.8" rx="0.6" ry="2.0"/><ellipse cx="353.6" cy="235.3" rx="0.6" ry="1.7"/></g>
<path fill="#0f0" opacity="0.5" d="M351.0 256.0h1.0v12.0h-1.0z"/>
<path fill="#0f0" opacity="0.6" d="M357.4 261.0h1.2v3.0h-1.2z"/>
<path fill="#0f0" opacity="0.5" d="M360.8 260.0h0.9v6.0h-0.9z"/>
<path fill="#0f0" opacity="0.6" d="M347.1 213.0h1.0v2.0h-1.0z"/>
<path fill="#0f0" d="M335.9 274.5h1.1v4.2h-1.1zM336.9 271.2h1.1v4.2h-1.1zM332.8 285.3h1.1v4.4h-1.1zM333.8 281.3h1.1v5.0h-1.1zM334.9 278.5h1.1v4.0h-1.1zM330.4 291.1h1.1v3.3h-1.1zM331.6 289.3h1.1v2.2h-1.1z"/>
<path fill="#0f0" d="M348.5 270.3h1.1v5.5h-1.1zM349.6 267.0h1.1v4.6h-1.1zM350.7 263.1h1.1v4.1h-1.1zM346.2 278.3h1.1v4.2h-1.1zM342.0 290.7h1.1v4.0h-1.1zM343.1 287.7h1.1v4.3h-1.1zM344.1 284.5h1.1v4.1h-1.1z"/>
<path fill="#0f0" d="M335.9 304.3h1.3v4.5h-1.3zM336.9 302.9h1.3v4.3h-1.3zM337.9 300.5h1.3v3.7h-1.3zM339.0 297.9h1.3v4.6h-1.3zM329.8 316.1h1.3v4.0h-1.3zM330.8 314.5h1.3v4.1h-1.3zM332.9 310.3h1.3v3.9h-1.3zM333.9 308.3h1.3v4.5h-1.3zM334.9 307.3h1.3v4.0h-1.3zM324.9 325.3h1.3v4.7h-1.3zM325.9 323.8h1.3v4.5h-1.3zM326.9 321.5h1.3v4.1h-1.3zM327.8 319.3h1.3v5.1h-1.3zM328.8 317.5h1.3v3.9h-1.3zM321.2 333.3h1.3v3.3h-1.3zM322.1 331.3h1.3v4.0h-1.3zM323.0 329.0h1.3v4.7h-1.3zM324.0 327.7h1.3v3.3h-1.3z"/>
<path fill="#0f0" d="M326.0 329.0h1.3v5.4h-1.3zM327.0 327.7h1.3v3.4h-1.3zM328.0 324.8h1.3v4.4h-1.3zM329.0 322.7h1.3v3.8h-1.3zM330.0 319.5h1.3v4.9h-1.3z"/>
<path d="M379.7 244.0L378.0 251.5" fill="none" stroke="#0f0" stroke-width="2.0" stroke-linecap="butt" stroke-linejoin="round"/>
<path d="M374.6 252.6L371.8 257.9L370.7 268.4L369.6 282.0" fill="none" stroke="#0f0" stroke-width="2.2" stroke-linecap="butt" stroke-linejoin="round"/>
<path d="M369.6 281.0L368.2 294.4L366.3 323.7" fill="none" stroke="#0f0" stroke-width="1.0" opacity="0.8" stroke-linecap="butt" stroke-linejoin="round"/>
<path d="M390.6 330.0L391.3 340.0L393.2 352.2L394.4 364.4L395.2 380.0" fill="none" stroke="#0f0" stroke-width="1.5" stroke-linecap="butt" stroke-linejoin="round"/>
<path d="M395.2 379.0L395.6 388.8L396.2 415.0L396.0 428.0" fill="none" stroke="#0f0" stroke-width="1.2" opacity="0.6" stroke-linecap="butt" stroke-linejoin="round"/>
<path fill="#0f0" opacity="0.9" d="M390.6 331.0h1.4v14.0h-1.4z"/>
<path fill="#0f0" opacity="0.8" d="M299.7 339.6h1.0v6.4h-1.0z"/>
<path fill="#0f0" opacity="0.9" d="M300.0 365.7h1.2v19.3h-1.2z"/>
<path fill="#0f0" opacity="0.6" d="M301.4 340.0h0.9v33.0h-0.9z"/>
<path d="M309.8 374.3L307.0 386.0L304.3 398.7" fill="none" stroke="#0f0" stroke-width="1.2" stroke-linecap="butt" stroke-linejoin="round"/>
<path fill="#0f0" d="M291.0 443.1h1.1v6.9h-1.1zM292.0 439.3h1.1v6.5h-1.1zM292.0 446.9h1.1v8.7h-1.1zM293.0 437.4h1.1v6.1h-1.1zM293.0 445.1h1.1v8.7h-1.1zM293.0 454.9h1.1v1.1h-1.1zM294.0 431.4h1.1v6.1h-1.1zM294.0 439.0h1.1v10.1h-1.1zM294.0 450.5h1.1v1.0h-1.1zM295.0 424.7h1.1v11.8h-1.1zM295.0 437.8h1.1v10.3h-1.1zM296.0 421.8h1.1v5.8h-1.1zM296.0 429.3h1.1v7.3h-1.1zM296.0 437.7h1.1v7.2h-1.1zM297.0 419.5h1.1v11.3h-1.1zM297.0 431.9h1.1v7.1h-1.1zM297.0 440.4h1.1v6.8h-1.1zM297.0 448.2h1.1v4.1h-1.1zM298.0 411.7h1.1v5.3h-1.1zM298.0 418.6h1.1v5.4h-1.1zM298.0 425.3h1.1v8.8h-1.1zM298.0 435.1h1.1v6.6h-1.1zM298.0 442.4h1.1v1.3h-1.1zM299.0 408.2h1.1v8.4h-1.1zM299.0 417.2h1.1v7.8h-1.1zM299.0 426.8h1.1v5.0h-1.1zM299.0 433.1h1.1v5.6h-1.1zM300.0 404.4h1.1v9.3h-1.1zM300.0 414.9h1.1v7.2h-1.1zM300.0 423.3h1.1v8.6h-1.1zM300.0 433.4h1.1v2.0h-1.1zM301.0 401.5h1.1v8.0h-1.1zM301.0 411.1h1.1v7.8h-1.1zM301.0 419.8h1.1v9.0h-1.1zM302.0 403.6h1.1v7.2h-1.1zM302.0 412.3h1.1v10.5h-1.1zM303.0 402.7h1.1v9.4h-1.1zM303.0 413.3h1.1v0.0h-1.1z"/>
<path d="M291.5 449.0L289.0 458.0L286.8 467.4" fill="none" stroke="#0f0" stroke-width="1.5" stroke-linecap="butt" stroke-linejoin="round"/>
<path fill="#0f0" opacity="0.9" d="M297.0 450.0h1.2v19.0h-1.2z"/>
<path fill="#0f0" opacity="0.35" d="M292.9 455.0h0.9v18.0h-0.9z"/>
<path fill="#0f0" opacity="0.4" d="M300.8 432.0h0.9v32.0h-0.9z"/>
<path fill="#0f0" opacity="0.5" d="M298.9 452.0h0.9v10.0h-0.9z"/>
<path fill="#0f0" opacity="0.6" d="M347.0 212.0h1.0v2.0h-1.0z"/>
<path fill="#0f0" opacity="0.6" d="M328.9 289.0h1.0v4.0h-1.0z"/>
<path fill="#0f0" opacity="0.7" d="M316.0 343.0h1.0v3.0h-1.0z"/>
<path fill="#0f0" opacity="0.9" d="M330.2 315.0h1.5v7.0h-1.5z"/>
<path fill="#0f0" opacity="0.8" d="M365.4 315.0h1.2v9.0h-1.2z"/>
<path fill="#00f" d="M370.4 140.0h1.2v32.0h-1.2zM371.5 134.0h1.2v47.0h-1.2zM372.6 130.0h1.2v36.0h-1.2zM373.7 127.0h1.2v19.0h-1.2zM374.8 123.0h1.2v18.0h-1.2zM375.9 119.0h1.2v29.0h-1.2zM377.0 114.0h1.2v37.0h-1.2zM378.0 109.0h1.2v32.0h-1.2zM379.1 111.0h1.2v37.0h-1.2zM380.2 115.0h1.2v36.0h-1.2zM381.3 119.0h1.2v22.0h-1.2zM382.4 123.0h1.2v27.0h-1.2zM383.5 125.0h1.2v21.0h-1.2zM384.6 129.0h1.2v10.0h-1.2zM385.7 131.0h1.2v21.0h-1.2zM386.6 134.0h1.2v16.0h-1.2z"/>
<path d="M371.2 160.0L372.2 172.0L373.0 181.0" fill="none" stroke="#00f" stroke-width="1.2" stroke-linecap="butt" stroke-linejoin="round"/>
<path fill="#00f" opacity="0.7" d="M388.0 152.5h1.0v7.0h-1.0z"/>
<path d="M364.6 122.3L363.6 132.0L364.4 140.0L365.3 146.7" fill="none" stroke="#00f" stroke-width="1.4" stroke-linecap="butt" stroke-linejoin="round"/>
<path fill="#00f" opacity="0.9" d="M364.0 179.0h1.2v10.6h-1.2z"/>
<path fill="#00f" d="M329.3 232.5h1.1v9.9h-1.1zM330.3 231.1h1.1v9.3h-1.1z"/>
<path d="M328.5 240.0L320.5 251.5" fill="none" stroke="#00f" stroke-width="1.5" stroke-dasharray="3.5 2.5" stroke-linecap="butt" stroke-linejoin="round"/>
<path d="M313.3 256.2L314.8 262.0L316.4 268.4" fill="none" stroke="#00f" stroke-width="2.0" stroke-linecap="butt" stroke-linejoin="round"/>
<path fill="#00f" d="M371.0 235.0h1.1v5.0h-1.1zM372.0 234.0h1.1v8.0h-1.1zM373.0 236.0h1.1v4.0h-1.1zM374.0 235.0h1.1v4.0h-1.1zM375.0 233.0h1.1v7.0h-1.1zM376.0 226.0h1.1v16.0h-1.1zM377.0 227.0h1.1v15.0h-1.1zM378.0 232.0h1.1v7.0h-1.1zM379.0 230.0h1.1v11.0h-1.1zM380.0 225.0h1.1v17.0h-1.1zM381.0 222.0h1.1v21.0h-1.1zM382.0 224.0h1.1v18.0h-1.1zM383.0 228.0h1.1v13.0h-1.1z"/>
<path fill="#00f" opacity="0.45" d="M384.1 228.0h0.9v23.0h-0.9z"/>
<path fill="#00f" opacity="0.9" d="M391.7 222.6h1.4v24.4h-1.4z"/>
<path d="M385.2 266.5L386.5 282.2L387.0 294.4" fill="none" stroke="#00f" stroke-width="1.5" stroke-linecap="butt" stroke-linejoin="round"/>
<path d="M387.0 294.0L388.3 312.7" fill="none" stroke="#00f" stroke-width="1.2" opacity="0.55" stroke-linecap="butt" stroke-linejoin="round"/>
<path fill="#00f" opacity="0.9" d="M388.9 339.5h1.2v6.5h-1.2z"/>
<path d="M390.0 352.0L390.6 362.0L392.0 368.0" fill="none" stroke="#00f" stroke-width="1.4" opacity="0.9" stroke-linecap="butt" stroke-linejoin="round"/>
<path fill="#00f" opacity="0.7" d="M392.2 382.0h1.1v4.0h-1.1z"/>
<path d="M325.5 186.5L325.1 182.2" fill="none" stroke="#ff0" stroke-width="1.25" stroke-linecap="butt" stroke-linejoin="round"/>
<path d="M329.7 180.2L330.3 174.0" fill="none" stroke="#ff0" stroke-width="1.25" stroke-linecap="butt" stroke-linejoin="round"/>
<path d="M333.2 169.6L333.8 164.0" fill="none" stroke="#ff0" stroke-width="1.25" stroke-linecap="butt" stroke-linejoin="round"/>
<path d="M335.4 161.8L335.9 157.0" fill="none" stroke="#ff0" stroke-width="1.25" stroke-linecap="butt" stroke-linejoin="round"/>
<path d="M337.1 151.2L337.8 144.4" fill="none" stroke="#ff0" stroke-width="1.25" stroke-linecap="butt" stroke-linejoin="round"/>
<g stroke="#000" stroke-width="1.3" fill="none" stroke-linecap="butt">
<path d="M105.0 100.4H951.2M105.0 534.4H951.2M121.5 100.4V534.4M934.7 100.4V534.4"/>
<path d="M113.2 512.66H121.5M934.7 512.66H943.0M113.2 490.91H121.5M934.7 490.91H943.0M113.2 469.17H121.5M934.7 469.17H943.0M105.0 447.42H121.5M934.7 447.42H951.2M113.2 425.68H121.5M934.7 425.68H943.0M113.2 403.94H121.5M934.7 403.94H943.0M113.2 382.19H121.5M934.7 382.19H943.0M105.0 360.45H121.5M934.7 360.45H951.2M113.2 338.71H121.5M934.7 338.71H943.0M113.2 316.96H121.5M934.7 316.96H943.0M113.2 295.22H121.5M934.7 295.22H943.0M105.0 273.47H121.5M934.7 273.47H951.2M113.2 251.73H121.5M934.7 251.73H943.0M113.2 229.99H121.5M934.7 229.99H943.0M113.2 208.24H121.5M934.7 208.24H943.0M105.0 186.50H121.5M934.7 186.50H951.2M113.2 164.97H121.5M934.7 164.97H943.0M113.2 143.45H121.5M934.7 143.45H943.0M113.2 121.92H121.5M934.7 121.92H943.0M162.16 100.4V104.60000000000001M162.16 534.4V530.1999999999999M202.82 100.4V104.60000000000001M202.82 534.4V530.1999999999999M243.48 100.4V104.60000000000001M243.48 534.4V530.1999999999999M284.14 100.4V108.9M284.14 534.4V525.9M324.80 100.4V104.60000000000001M324.80 534.4V530.1999999999999M365.46 100.4V104.60000000000001M365.46 534.4V530.1999999999999M406.12 100.4V104.60000000000001M406.12 534.4V530.1999999999999M446.78 100.4V108.9M446.78 534.4V525.9M487.44 100.4V104.60000000000001M487.44 534.4V530.1999999999999M528.10 100.4V104.60000000000001M528.10 534.4V530.1999999999999M568.76 100.4V104.60000000000001M568.76 534.4V530.1999999999999M609.42 100.4V108.9M609.42 534.4V525.9M650.08 100.4V104.60000000000001M650.08 534.4V530.1999999999999M690.74 100.4V104.60000000000001M690.74 534.4V530.1999999999999M731.40 100.4V104.60000000000001M731.40 534.4V530.1999999999999M772.06 100.4V108.9M772.06 534.4V525.9M812.72 100.4V104.60000000000001M812.72 534.4V530.1999999999999M853.38 100.4V104.60000000000001M853.38 534.4V530.1999999999999M894.04 100.4V104.60000000000001M894.04 534.4V530.1999999999999"/>
</g>
<text transform="translate(113.0 34.9) scale(0.995 1.0)" font-size="32.8" text-anchor="start" >Shot</text>
<path d="M206.95 34.90L206.95 11.97L203.51 11.97Q201.70 15.22 196.55 15.84L196.55 18.93L202.06 18.93L202.06 34.90Z"/>
<path d="M224.90 34.90L224.90 11.97L221.46 11.97Q219.65 15.22 214.50 15.84L214.50 18.93L220.01 18.93L220.01 34.90Z"/>
<text transform="translate(230.3 34.9) scale(1.015 1.0)" font-size="32.8" text-anchor="start" >6282</text>
<text transform="translate(312.6 34.9) scale(1 1.08)" font-size="35" font-family="Liberation Serif" font-weight="normal" stroke="#000" stroke-width="0.45">ω</text>
<text transform="translate(334.3 34.9) scale(1.0 1.0)" font-size="32.8" text-anchor="start" >B(</text>
<text transform="translate(369.1 34.9) scale(1 1.08)" font-size="35" font-family="Liberation Serif" font-weight="normal" stroke="#000" stroke-width="0.45">ω</text>
<text transform="translate(391.0 34.9) scale(1.0 1.0)" font-size="32.8" text-anchor="start" >)</text>
<text transform="translate(411.0 34.9) scale(0.995 1.0)" font-size="32.8" text-anchor="start" >spectrum</text>
<text transform="translate(123.7 84.7) scale(1.021 1.0)" font-size="33.2" text-anchor="start" >for toroidal mode number:</text>
<rect x="583.2" y="21.1" width="59.8" height="18.8" fill="#000" stroke="#000" stroke-width="2"/>
<rect x="654.0" y="21.1" width="59.0" height="18.8" fill="#f00" stroke="#000" stroke-width="2"/>
<rect x="724.1" y="21.1" width="59.8" height="18.8" fill="#0f0" stroke="#000" stroke-width="2"/>
<rect x="794.0" y="21.1" width="60.0" height="18.8" fill="#00f" stroke="#000" stroke-width="2"/>
<rect x="865.0" y="21.1" width="59.3" height="18.8" fill="#ff0" stroke="#000" stroke-width="2"/>
<path d="M614.65 84.90L614.65 65.47L611.73 65.47Q610.20 68.22 605.84 68.75L605.84 71.36L610.51 71.36L610.51 84.90Z"/>
<text transform="translate(681.9 84.9) scale(1.0 1.03)" font-size="27.8" text-anchor="middle" >2</text>
<text transform="translate(752.3 84.9) scale(1.0 1.03)" font-size="27.8" text-anchor="middle" >3</text>
<text transform="translate(822.2 84.9) scale(1.0 1.03)" font-size="27.8" text-anchor="middle" >4</text>
<text transform="translate(892.9 84.9) scale(1.0 1.03)" font-size="27.8" text-anchor="middle" >5</text>
<text transform="translate(98.2 534.3) scale(1.0 1.04)" font-size="27.8" text-anchor="end" >0</text>
<text transform="translate(98.2 457.12499999999994) scale(1.0 1.04)" font-size="27.8" text-anchor="end" >20</text>
<text transform="translate(98.2 370.15) scale(1.0 1.04)" font-size="27.8" text-anchor="end" >40</text>
<text transform="translate(98.2 283.17499999999995) scale(1.0 1.04)" font-size="27.8" text-anchor="end" >60</text>
<text transform="translate(98.2 195.5) scale(1.0 1.04)" font-size="27.8" text-anchor="end" >80</text>
<path d="M63.30 115.05L63.30 95.62L60.38 95.62Q58.85 98.37 54.49 98.90L54.49 101.51L59.16 101.51L59.16 115.05Z"/>
<text transform="translate(98.2 115.3) scale(1.0 1.04)" font-size="27.8" text-anchor="end" >00</text>
<text transform="translate(283.64 568.2) scale(1.0 1.04)" font-size="27.8" text-anchor="middle" >0.2</text>
<text transform="translate(446.28000000000003 568.2) scale(1.0 1.04)" font-size="27.8" text-anchor="middle" >0.4</text>
<text transform="translate(609.5200000000001 568.2) scale(1.0 1.04)" font-size="27.8" text-anchor="middle" >0.6</text>
<text transform="translate(772.5600000000001 568.2) scale(1.0 1.04)" font-size="27.8" text-anchor="middle" >0.8</text>
<text transform="translate(527.8 597.0) scale(1.0 1.0)" font-size="27.5" text-anchor="middle" >Time (s)</text>
<text transform="translate(31.4 315.6) rotate(-90) scale(1.002 1)" font-size="27.0" text-anchor="middle">Frequency (kHz)</text>
</svg>
</body></html>
